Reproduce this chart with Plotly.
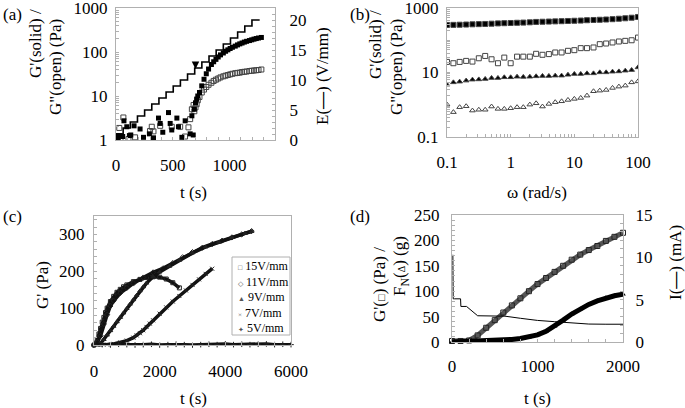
import math
import plotly.graph_objects as go

FONT = "Liberation Serif, Times New Roman, serif"
W, H = 685, 408

# ---------------- Panel (a): G'/G'' and E vs t ----------------
a_t_solid = [12, 20, 36, 59, 70, 95, 118, 130, 159, 212, 242, 294, 330, 374, 389, 412, 462, 477,
             491, 536, 550, 580, 609, 653, 668, 680,
             690, 700, 710, 720, 735, 755, 775, 795, 815, 840, 860, 880, 900, 920, 945, 965, 985,
             1005, 1025, 1050, 1070, 1090, 1110, 1130, 1150, 1175, 1195, 1215, 1235, 1255, 1280]
a_g_solid = [1.26, 1.1, 1.26, 1.2, 2.73, 2.0, 1.26, 1.3, 2.1, 1.78, 1.15, 1.38, 1.12, 3.15, 2.38, 1.5,
             4.2, 2.38, 1.69, 3.15, 2.0, 1.15, 2.73, 1.38, 3.55, 1.3,
             5, 7, 8.5, 10, 12, 17, 24, 32, 41, 52, 60, 68, 77, 86, 95, 104, 112, 120, 128, 136,
             145, 153, 160, 168, 175, 182, 189, 196, 202, 208, 214]
a_t_open = [29, 40, 65, 110, 168, 300, 315, 330, 389, 491, 565, 608, 638, 653, 668, 683,
            690, 700, 710, 720, 735, 755, 775, 795, 815, 840, 860, 880, 900, 920, 945, 965, 985,
            1005, 1025, 1050, 1070, 1090, 1110, 1130, 1150, 1175, 1195, 1215, 1235, 1255, 1280]
a_g_open = [1.88, 1.1, 3.25, 1.05, 1.15, 1.6, 2.0, 1.57, 2.1, 2.0, 2.0, 1.2, 1.94, 2.98, 5.0, 6.25,
            4.5, 5.5, 6.5, 8, 9.5, 12, 14, 16, 18, 20, 22, 23.5, 25, 26.5, 28, 29, 30, 31, 32, 33,
            33.5, 34, 35, 35.5, 36, 37, 37.5, 38, 38.5, 39, 40]
a_t_E = [0, 63, 126, 189, 252, 315, 378, 441, 504, 567, 630, 693, 756, 819, 882, 945, 1008, 1071,
         1134, 1197, 1265]
a_E = [1, 2, 3, 4, 5, 6, 7, 8, 9, 10, 11, 12, 13, 14, 15, 16, 17, 18, 19, 20, 20]
a_arrow_t = 700
a_arrow_g = 41

# ---------------- Panel (b): frequency sweep ----------------
b_omega = [0.1, 0.126, 0.158, 0.2, 0.251, 0.316, 0.398, 0.501, 0.631, 0.794, 1.0, 1.26, 1.58, 2.0,
           2.51, 3.16, 3.98, 5.01, 6.31, 7.94, 10.0, 12.6, 15.8, 20.0, 25.1, 31.6, 39.8, 50.1,
           63.1, 79.4, 100.0]
b_gp_sq = [298, 300, 303, 307, 312, 316, 320, 326, 333, 338, 343, 348, 353, 360, 370, 375, 380,
           385, 390, 396, 402, 408, 418, 425, 432, 440, 450, 465, 480, 500, 527]
b_gpp_sq = [21.3, 19.4, 21.3, 22.9, 21.8, 27.6, 32.6, 25.7, 19.4, 29, 19.4, 31, 31, 31, 38, 35.4,
            37.2, 41.8, 41.8, 47, 49.3, 56.9, 56.9, 59.7, 75.6, 79.3, 85.3, 91.5, 95.8, 100, 121]
b_gp_tri = [4.2, 4.95, 5.2, 5.6, 6.0, 6.1, 6.3, 6.75, 6.75, 7.1, 7.1, 7.4, 7.3, 7.4, 7.6, 7.8, 7.8,
            8.0, 8.0, 8.5, 9.0, 9.0, 9.4, 9.4, 10.1, 10.1, 10.6, 10.8, 11.4, 11.9, 14.4]
b_gpp_tri = [1.01, 0.59, 0.84, 0.90, 0.66, 0.70, 0.70, 0.88, 0.745, 0.745, 0.78, 0.84, 0.84, 1.01,
             1.11, 0.88, 1.06, 1.20, 1.28, 1.41, 1.52, 1.63, 1.92, 2.62, 2.74, 2.88, 3.32, 3.65,
             3.92, 4.95, 5.3]

# ---------------- Panel (c): G' vs t at several fields ----------------
c_t_15 = [0, 50, 100, 150, 200, 250, 300, 350, 400, 500, 600, 700, 800, 900, 1000, 1200, 1400,
          1600, 1800, 2000, 2200, 2400, 2600]
c_g_15 = [0, 5, 15, 30, 45, 62, 75, 88, 100, 118, 132, 143, 151, 158, 163, 172, 178, 183, 185,
          184, 179, 169, 155]
c_t_11 = [0, 100, 200, 300, 400, 500, 600, 800, 1000, 1200, 1500, 1800, 2100, 2400, 2700, 3000,
          3300, 3600, 3900, 4200, 4500, 4800]
c_g_11 = [0, 8, 25, 57, 82, 106, 120, 141, 155, 167, 183, 197, 208, 222, 238, 252, 264, 274, 283,
          292, 300, 309]
c_t_9 = [0, 150, 200, 300, 400, 500, 600, 700, 800, 900, 1000, 1100, 1200, 1300, 1400, 1500,
         1600, 1800, 2000, 2300, 2600, 3000, 3400, 3800, 4200, 4600, 4800]
c_g_9 = [0, 0, 4, 15, 27, 39, 51, 63, 75, 87, 99, 111, 123, 135, 147, 158, 168, 185, 198, 214,
         230, 250, 266, 279, 292, 303, 308]
c_t_7 = [0, 200, 400, 600, 800, 1000, 1200, 1300, 1400, 1500, 1600, 1700, 1800, 2000, 2200, 2400,
         2600, 2800, 3000, 3200, 3400, 3600]
c_g_7 = [0, 0, 1, 3, 7, 12, 20, 26, 32, 40, 49, 58, 67, 85, 102, 118, 133, 148, 163, 178, 193,
         207]
c_t_5 = [0, 250, 500, 750, 1000, 1250, 1500, 1750, 2000, 2250, 2500, 2750, 3000, 3250, 3500,
         3750, 4000, 4250, 4500, 4750, 5000, 5250, 5500, 5750, 6000]
c_g_5 = [0, 1, 0, 2, 1, 0, 1, 2, 0, 1, 2, 1, 0, 1, 2, 1, 3, 1, 2, 1, 2, 3, 1, 2, 1]
c_names = ["15V/mm", "11V/mm", "9V/mm", "7V/mm", "5V/mm"]

# ---------------- Panel (d): G', F_N and current vs t ----------------
d_t = [0, 100, 200, 300, 400, 500, 600, 700, 800, 900, 1000, 1100, 1200, 1300, 1400, 1500, 1600,
       1700, 1800, 1900, 2000]
d_gp = [2, 2, 3, 13, 28, 43, 58, 72, 86, 100, 114, 126, 138, 150, 162, 172, 181, 189, 199, 207,
        215]
d_fn = [0, 0.5, 1, 1.5, 2, 2.5, 3.5, 5, 7, 9.5, 14, 21, 31, 43, 55, 65, 74, 81, 87, 91, 94]
d_t_I = [10, 14, 30, 100, 104, 170, 300, 620, 800, 1000, 1200, 1400, 1600, 1800, 2000]
d_I = [10.3, 5.1, 5.1, 5.1, 4.2, 4.2, 3.1, 3.05, 2.8, 2.55, 2.4, 2.25, 2.12, 2.1, 2.1]


def xdom(left, right):
    return [left / W, right / W]


def ydom(top, bottom):
    return [1 - bottom / H, 1 - top / H]


AXC = "#b0b0b0"


def axis(**kw):
    base = dict(showline=True, linecolor=AXC, linewidth=1, ticks="inside", ticklen=3,
                tickcolor=AXC, showgrid=False, zeroline=False, automargin=False,
                ticklabeloverflow="allow",
                tickfont=dict(family=FONT, size=17, color="black"))
    base.update(kw)
    return base


def minor(dtick):
    return dict(ticks="inside", ticklen=3, tickcolor=AXC, dtick=dtick, showgrid=False)


fig = go.Figure()

# (a)
fig.add_trace(go.Scatter(x=a_t_E, y=a_E, mode="lines", line=dict(color="black", width=1.6, shape="hv"),
                         xaxis="x", yaxis="y2", showlegend=False))
fig.add_trace(go.Scatter(x=a_t_open, y=a_g_open, mode="markers",
                         marker=dict(symbol="square-open", size=5, color="#444", line=dict(width=1)),
                         xaxis="x", yaxis="y", showlegend=False))
fig.add_trace(go.Scatter(x=a_t_solid, y=a_g_solid, mode="markers",
                         marker=dict(symbol="square", size=5, color="black"),
                         xaxis="x", yaxis="y", showlegend=False))

# (b)
for yv, sym in [(b_gp_sq, "square"), (b_gpp_sq, "square-open"), (b_gp_tri, "triangle-up"),
                (b_gpp_tri, "triangle-up-open")]:
    fig.add_trace(go.Scatter(x=b_omega, y=yv, mode="markers",
                             marker=dict(symbol=sym, size=5,
                                         color="black" if "open" not in sym else "#444",
                                         line=dict(width=1)),
                             xaxis="x2", yaxis="y3", showlegend=False))

# (c)
c_data = [(c_t_15, c_g_15, "square-open"), (c_t_11, c_g_11, "diamond-open"),
          (c_t_9, c_g_9, "triangle-up"), (c_t_7, c_g_7, "x-thin-open"),
          (c_t_5, c_g_5, "cross-thin-open")]
for (tx, gy, sym), nm in zip(c_data, c_names):
    fig.add_trace(go.Scatter(x=tx, y=gy, mode="lines+markers", name=nm,
                             line=dict(color="#111", width=3.5),
                             marker=dict(symbol=sym, size=4, color="#222", line=dict(width=1, color="#222")),
                             xaxis="x3", yaxis="y4", showlegend=False, cliponaxis=False))

# (d)
fig.add_trace(go.Scatter(x=d_t, y=d_gp, mode="lines+markers",
                         line=dict(color="#555", width=5),
                         marker=dict(symbol="square-open", size=5, color="#222", line=dict(width=1)),
                         xaxis="x4", yaxis="y5", showlegend=False, cliponaxis=False))
fig.add_trace(go.Scatter(x=d_t, y=d_fn, mode="lines+markers",
                         line=dict(color="black", width=5),
                         marker=dict(symbol="triangle-up", size=5, color="black"),
                         xaxis="x4", yaxis="y5", showlegend=False, cliponaxis=False))
fig.add_trace(go.Scatter(x=d_t_I, y=d_I, mode="lines", line=dict(color="black", width=1),
                         xaxis="x4", yaxis="y6", showlegend=False))

fig.update_layout(
    width=W, height=H, margin=dict(l=0, r=0, t=0, b=0, autoexpand=False),
    paper_bgcolor="white", plot_bgcolor="white", showlegend=False,
    font=dict(family=FONT, size=17, color="black"),
    # (a)
    xaxis=axis(domain=xdom(116, 275), range=[0, 1400], tickvals=[0, 500, 1000], anchor="y",
               mirror=True, ticklabelstandoff=10, minor=minor(100)),
    yaxis=axis(domain=ydom(8, 140), type="log", range=[0, 3], tickvals=[1, 10, 100, 1000],
               ticktext=["1", "10", "100", "1000"], anchor="x", ticklabelstandoff=4,
               minor=minor("D1")),
    yaxis2=axis(overlaying="y", side="right", anchor="x", range=[0, 22], tickvals=[0, 5, 10, 15, 20],
                ticklabelstandoff=10, minor=minor(1)),
    # (b)
    xaxis2=axis(domain=xdom(447, 638), type="log", range=[-1, 2], tickvals=[0.1, 1, 10, 100],
                ticktext=["0.1", "1", "10", "100"], anchor="y3", mirror=True, ticklabelstandoff=10,
                minor=minor("D1")),
    yaxis3=axis(domain=ydom(8, 137), type="log", range=[-1, 3], tickvals=[0.1, 10, 1000],
                ticktext=["0.1", "10", "1000"], anchor="x2", mirror=True, ticklabelstandoff=4,
                minor=minor("D1")),
    # (c)
    xaxis3=axis(domain=xdom(94, 291), range=[0, 6000], tickvals=[0, 2000, 4000, 6000], anchor="y4",
                mirror=True, ticklabelstandoff=11, minor=minor(500)),
    yaxis4=axis(domain=ydom(216, 345), range=[0, 350], tickvals=[0, 100, 200, 300], anchor="x3",
                mirror=True, ticklabelstandoff=5, minor=minor(20)),
    # (d)
    xaxis4=axis(domain=xdom(452, 623), range=[0, 2000], tickvals=[0, 1000, 2000], anchor="y5",
                mirror=True, ticklabelstandoff=9, minor=minor(200)),
    yaxis5=axis(domain=ydom(215, 342), range=[0, 250], tickvals=[0, 50, 100, 150, 200, 250],
                anchor="x4", ticklabelstandoff=8, minor=minor(10)),
    yaxis6=axis(overlaying="y5", side="right", anchor="x4", range=[0, 15], tickvals=[0, 5, 10, 15],
                ticklabelstandoff=8, minor=minor(1)),
)


def ann(text, px, py, angle=0, size=17, **kw):
    fig.add_annotation(text=text, x=px / W, y=1 - py / H, xref="paper", yref="paper",
                       showarrow=False, textangle=angle, xanchor="center", yanchor="middle",
                       font=dict(family=FONT, size=size, color="black"), **kw)


# panel labels
ann("(a)", 12, 15)
ann("(b)", 360, 15)
ann("(c)", 12, 216)
ann("(d)", 360, 216)

# axis titles
ann("G'(solid) /", 35, 44, angle=-90)
ann('G"(open) (Pa)', 56, 67, angle=-90)
ann("E(<b>—</b>) (V/mm)", 322, 76, angle=-90)
ann("t (s)", 193, 192)
ann("G'(solid) /", 375, 45, angle=-90)
ann('G"(open) (Pa)', 397, 67, angle=-90)
ann("ω (rad/s)", 537, 192)
ann("G' (Pa)", 42, 285, angle=-90)
ann("t (s)", 193, 398)
ann("G'(<span style='font-size:11px'>□</span>) (Pa) /", 379, 284, angle=-90)
ann("F<sub>N</sub>(<span style='font-size:10px'>Δ</span>) (g)", 401, 266, angle=-90)
ann("I(<b>—</b>) (mA)", 675, 263, angle=-90)
ann("t (s)", 537, 398)

# arrow in (a)
fig.add_annotation(x=a_arrow_t, y=math.log10(a_arrow_g), xref="x", yref="y", text=" ",
                   showarrow=True, arrowhead=2, arrowsize=1, arrowwidth=1.5, arrowcolor="black",
                   ax=0, ay=-14)

# legend of (c) (drawn as a box with text entries)
fig.add_shape(type="rect", xref="paper", yref="paper", x0=232 / W, x1=290 / W,
              y0=1 - 335 / H, y1=1 - 257 / H, line=dict(color=AXC, width=1), fillcolor="white",
              layer="above")
glyphs = ["□", "◇", "▲", "×", "✦"]
for i, (g, nm) in enumerate(zip(glyphs, c_names)):
    fig.add_annotation(text=f"<span style='font-size:7px;color:#555'>{g}</span> {nm}",
                       x=236 / W, y=1 - (266 + 15.5 * i) / H, xref="paper", yref="paper",
                       showarrow=False, xanchor="left", yanchor="middle",
                       font=dict(family=FONT, size=12, color="black"))

fig.write_html("out.html", config={"displayModeBar": False},
               post_script="document.body.style.margin='0';document.body.style.overflow='hidden';")
